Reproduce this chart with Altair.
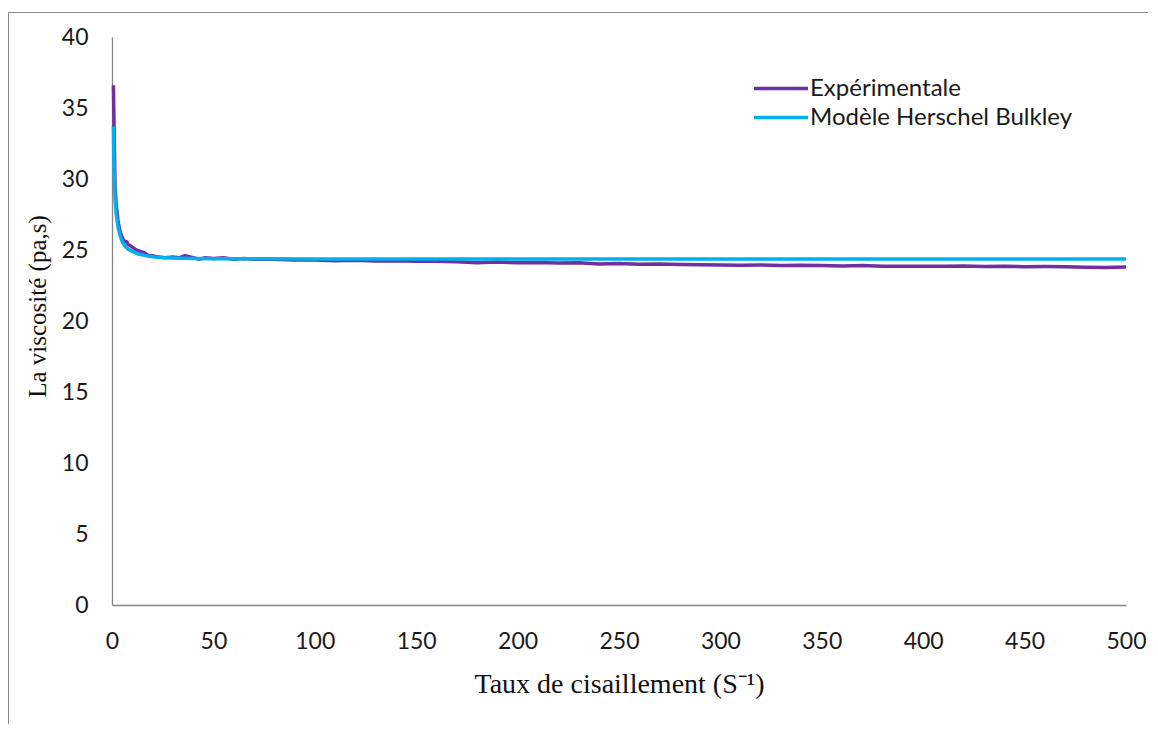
import altair as alt
import pandas as pd

# Experimental viscosity curve (shear rate, viscosity)
exp_x = [0.7, 1, 1.5, 2, 3, 4, 5, 6, 7, 8, 10, 12, 14, 16, 18, 20, 23, 26, 30, 33, 36, 40, 43, 46,
         50, 55, 60, 65, 70, 80, 90, 100, 110, 120, 130, 140, 150, 160, 170, 180, 190, 200, 210,
         220, 230, 240, 250, 260, 270, 280, 290, 300, 310, 320, 330, 340, 350, 360, 370, 380, 390,
         400, 410, 420, 430, 440, 450, 460, 470, 480, 490, 500]
exp_y = [36.6, 33.8, 29.5, 28.3, 27.0, 26.3, 25.9, 25.6, 25.6, 25.4, 25.2, 25.0, 24.9, 24.8, 24.6,
         24.6, 24.5, 24.45, 24.5, 24.45, 24.6, 24.45, 24.35, 24.45, 24.4, 24.45, 24.35, 24.4, 24.35,
         24.35, 24.3, 24.3, 24.25, 24.28, 24.22, 24.25, 24.2, 24.2, 24.18, 24.1, 24.15, 24.1, 24.12,
         24.08, 24.1, 24.02, 24.05, 24.0, 24.02, 23.98, 23.96, 23.95, 23.92, 23.95, 23.9, 23.92,
         23.9, 23.88, 23.9, 23.85, 23.86, 23.85, 23.85, 23.88, 23.84, 23.86, 23.82, 23.83, 23.82,
         23.78, 23.76, 23.8]

# Herschel-Bulkley model curve
mod_x = [0.7, 1, 1.5, 2, 3, 4, 5, 6, 8, 10, 13, 16, 20, 25, 30, 40, 50, 75, 100, 150, 200, 300, 400, 500]
mod_y = [33.7, 30.8, 28.6, 27.6, 26.6, 26.0, 25.6, 25.35, 25.05, 24.9, 24.72, 24.62, 24.53, 24.47,
         24.44, 24.41, 24.39, 24.38, 24.37, 24.37, 24.37, 24.37, 24.37, 24.37]

series_names = ["Expérimentale", "Modèle Herschel Bulkley"]
series_colors = ["#7030A0", "#00B0F0"]

x_ticks = [0, 50, 100, 150, 200, 250, 300, 350, 400, 450, 500]
y_ticks = [0, 5, 10, 15, 20, 25, 30, 35, 40]

df_exp = pd.DataFrame({"x": exp_x, "y": exp_y, "s": series_names[0]})
df_mod = pd.DataFrame({"x": mod_x, "y": mod_y, "s": series_names[1]})

color = alt.Color(
    "s:N",
    scale=alt.Scale(domain=series_names, range=series_colors),
    legend=alt.Legend(
        title=None, orient="none", legendX=640, legendY=37,
        symbolType="stroke", symbolSize=2916, symbolStrokeWidth=3.5,
        labelFont="Lato", labelFontSize=24, labelColor="#1a1a1a", labelLimit=0,
        labelOffset=0, rowPadding=0, clipHeight=29, padding=0,
    ),
)

xenc = alt.X(
    "x:Q",
    scale=alt.Scale(domain=[0, 500], nice=False),
    axis=alt.Axis(
        title="Taux de cisaillement (S⁻¹)", values=x_ticks, grid=False, ticks=False,
        labelFont="Lato", labelFontSize=23, labelColor="#1a1a1a", labelPadding=25,
        labelFlush=False, labelOverlap=False,
        domainColor="#868686", domainWidth=1.3,
        titleFont="Liberation Serif", titleFontSize=28, titleFontWeight="normal",
        titleColor="#111111", titlePadding=17,
    ),
)
yenc = alt.Y(
    "y:Q",
    scale=alt.Scale(domain=[0, 40], nice=False),
    axis=alt.Axis(
        title="La viscosité (pa,s)", values=y_ticks, grid=False, ticks=False,
        labelFont="Lato", labelFontSize=23, labelColor="#1a1a1a", labelPadding=24,
        labelFlush=False, labelOverlap=False,
        domainColor="#868686", domainWidth=1.3,
        titleFont="Liberation Serif", titleFontSize=25, titleFontWeight="normal",
        titleColor="#111111", titlePadding=11, titleY=269,
    ),
)

border = alt.Chart(pd.DataFrame({"a": [0]})).mark_rect(
    filled=False, stroke="#8a8a8a", strokeWidth=1
).encode(
    x=alt.value(-103.5), x2=alt.value(1200), y=alt.value(-24.5), y2=alt.value(900)
)

exp_line = alt.Chart(df_exp).mark_line(strokeWidth=3.5).encode(
    x=xenc, y=yenc, color=color, order=alt.Order("x:Q")
)
mod_line = alt.Chart(df_mod).mark_line(strokeWidth=3.5).encode(
    x=xenc, y=yenc, color=color, order=alt.Order("x:Q")
)

chart = alt.layer(border, exp_line, mod_line).properties(
    width=1014, height=568,
    padding={"left": 104, "top": 29, "right": 22, "bottom": 119},
    autosize=alt.AutoSizeParams(type="none"),
    background="white",
).configure_view(stroke=None)

chart.save("out.html", embed_options={"renderer": "svg", "actions": False})
